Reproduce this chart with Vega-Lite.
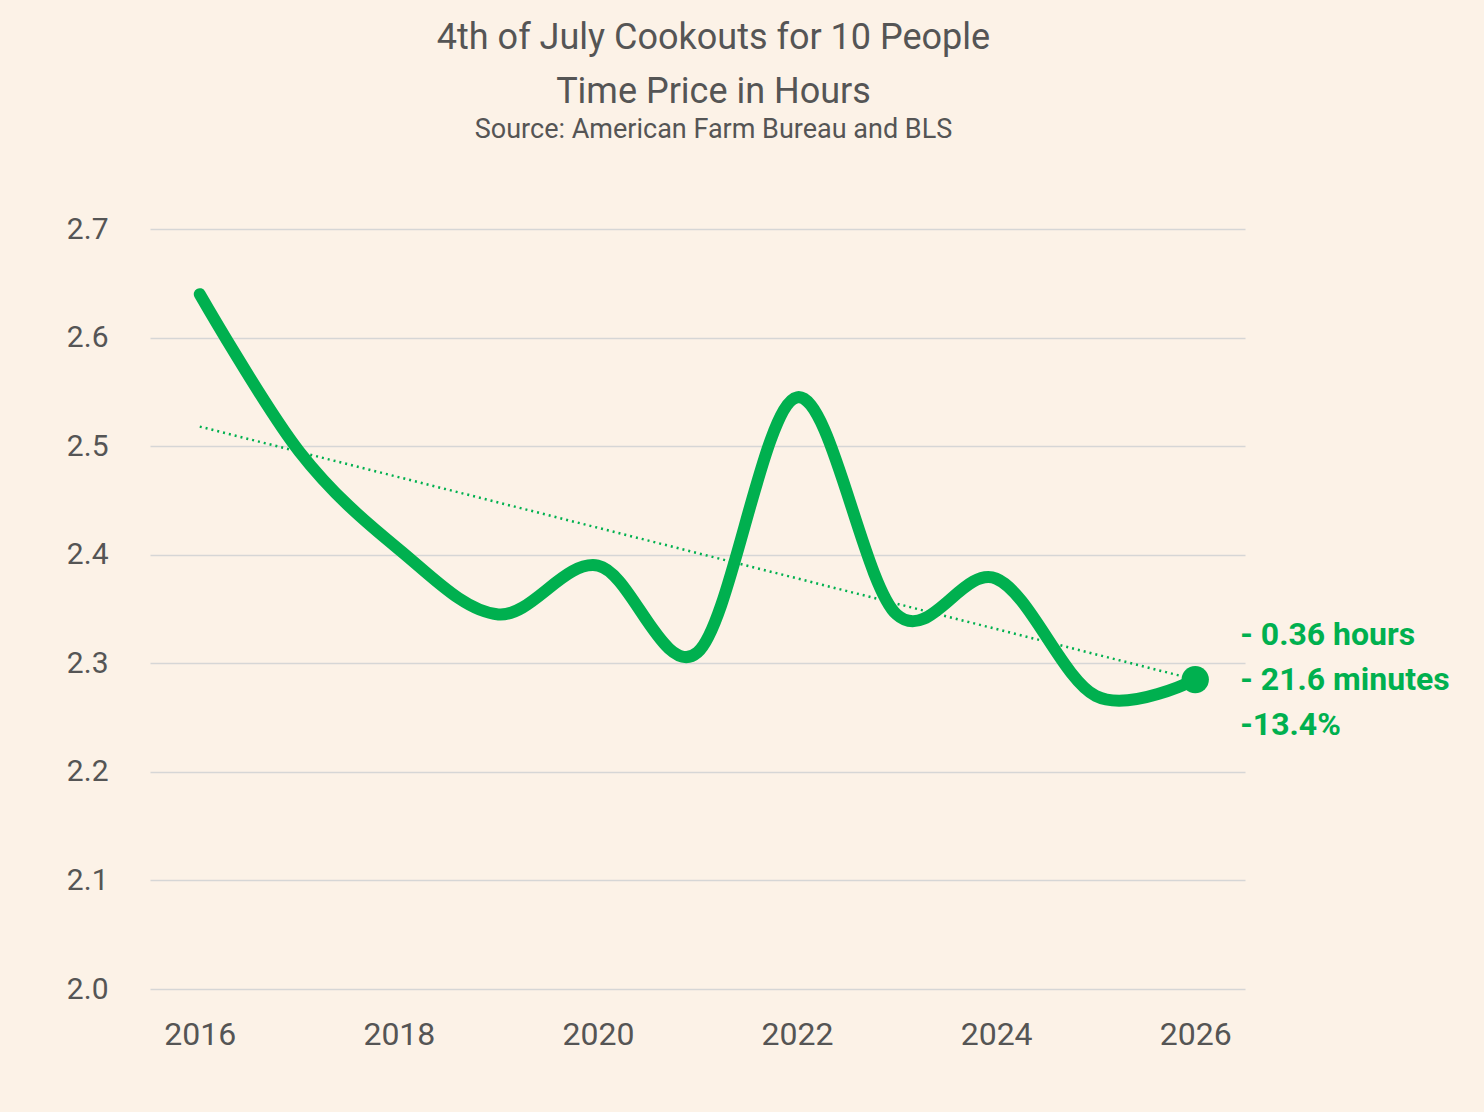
{
  "$schema": "https://vega.github.io/schema/vega-lite/v6.json",
  "autosize": "none",
  "width": 1095,
  "height": 760,
  "padding": {"left": 150, "top": 229, "right": 239, "bottom": 123},
  "background": "#fcf2e7",
  "config": {"view": {"stroke": null}, "font": "Roboto"},
  "title": {
    "text": ["4th of July Cookouts for 10 People", "Time Price in Hours"],
    "subtitle": "Source: American Farm Bureau and BLS",
    "fontSize": 36, "fontWeight": "normal", "color": "#555555", "lineHeight": 54,
    "subtitleFontSize": 27, "subtitleColor": "#555555", "subtitlePadding": 6,
    "anchor": "middle", "offset": 70, "dx": 16
  },
  "datasets": {
    "series": [
      {"year": 2016, "hours": 2.64},
      {"year": 2017, "hours": 2.495},
      {"year": 2018, "hours": 2.405},
      {"year": 2019, "hours": 2.345},
      {"year": 2020, "hours": 2.39},
      {"year": 2021, "hours": 2.31},
      {"year": 2022, "hours": 2.545},
      {"year": 2023, "hours": 2.345},
      {"year": 2024, "hours": 2.378},
      {"year": 2025, "hours": 2.27},
      {"year": 2026, "hours": 2.285}
    ],
    "trend": [
      {"year": 2016, "hours": 2.518},
      {"year": 2026, "hours": 2.285}
    ],
    "last": [
      {"year": 2026, "hours": 2.285, "label": ["- 0.36 hours", "- 21.6 minutes", "-13.4%"]}
    ]
  },
  "encoding": {
    "x": {"field": "year", "type": "quantitative",
      "scale": {"domain": [2015.5, 2026.5], "nice": false, "zero": false},
      "axis": {"values": [2016, 2018, 2020, 2022, 2024, 2026], "format": "d", "title": null,
        "grid": false, "domain": false, "ticks": false, "labelFontSize": 32,
        "labelColor": "#555555", "labelPadding": 30}},
    "y": {"field": "hours", "type": "quantitative",
      "scale": {"domain": [2.0, 2.7], "nice": false, "zero": false},
      "axis": {"values": [2.0, 2.1, 2.2, 2.3, 2.4, 2.5, 2.6, 2.7], "format": ".1f", "title": null,
        "domain": false, "ticks": false, "gridColor": "#d6d6d6", "gridWidth": 1.5,
        "labelFontSize": 30, "labelColor": "#555555", "labelPadding": 42}}
  },
  "layer": [
    {"data": {"name": "trend"},
     "mark": {"type": "line", "color": "#00b04f", "strokeWidth": 2.5, "strokeDash": [2, 4]}},
    {"data": {"name": "series"},
     "mark": {"type": "line", "color": "#00b04f", "strokeWidth": 12, "interpolate": "cardinal", "strokeCap": "round"}},
    {"data": {"name": "last"},
     "mark": {"type": "point", "filled": true, "color": "#00b04f", "size": 750, "opacity": 1}},
    {"data": {"name": "last"},
     "mark": {"type": "text", "align": "left", "baseline": "middle", "dx": 45, "dy": -45,
       "fontSize": 32, "fontWeight": "bold", "color": "#00b04f", "lineHeight": 45},
     "encoding": {"text": {"field": "label"}}}
  ]
}
